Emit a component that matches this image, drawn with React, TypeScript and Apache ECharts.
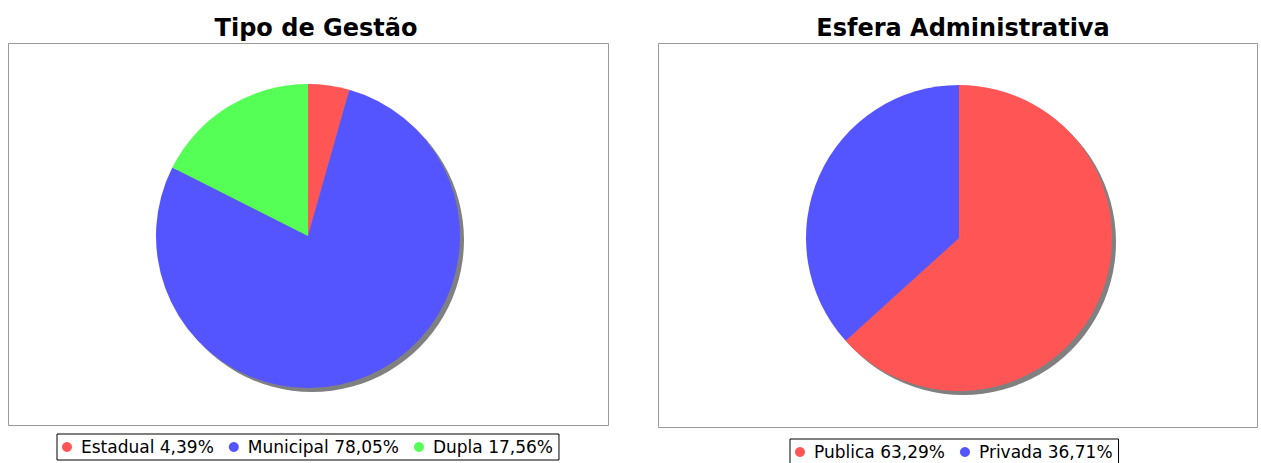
import React, { useEffect, useRef } from "react";
import * as echarts from "echarts";

const gestaoNames = ["Estadual", "Municipal", "Dupla"];
const gestaoValues = [4.39, 78.05, 17.56];
const gestaoColors = ["#FF5555", "#5555FF", "#55FF55"];

const esferaNames = ["Publica", "Privada"];
const esferaValues = [63.29, 36.71];
const esferaColors = ["#FF5555", "#5555FF"];

const titles = ["Tipo de Gestão", "Esfera Administrativa"];

const fmt = (v: number) => v.toFixed(2).replace(".", ",") + "%";

export default function App() {
  const ref = useRef<HTMLDivElement>(null);
  useEffect(() => {
    if (!ref.current) return;
    const chart = echarts.init(ref.current, null, { renderer: "svg" });
    const lookup: Record<string, number> = {};
    gestaoNames.forEach((n, i) => (lookup[n] = gestaoValues[i]));
    esferaNames.forEach((n, i) => (lookup[n] = esferaValues[i]));
    const sum = (a: number[]) => a.reduce((s, v) => s + v, 0);
    const font = "DejaVu Sans";
    const legendCommon = {
      icon: "circle",
      itemWidth: 10,
      itemHeight: 10,
      itemGap: 15,
      padding: [4, 6, 4, 5],
      borderColor: "#000",
      borderWidth: 1,
      selectedMode: false,
      formatter: (n: string) => n + " " + fmt(lookup[n]),
      textStyle: { fontFamily: font, fontSize: 17, lineHeight: 18, color: "#000", padding: [0, 0, 0, 4] },
    };
    chart.setOption({
      animation: false,
      backgroundColor: "#ffffff",
      title: [
        {
          text: titles[0],
          left: 311,
          top: 11,
          textAlign: "center",
          textStyle: { fontFamily: font, fontWeight: "bold", fontSize: 24, color: "#000" },
        },
        {
          text: titles[1],
          left: 958,
          top: 11,
          textAlign: "center",
          textStyle: { fontFamily: font, fontWeight: "bold", fontSize: 24, color: "#000" },
        },
      ],
      graphic: [
        {
          type: "rect",
          shape: { x: 8.5, y: 43.5, width: 600, height: 382 },
          style: { fill: "#fff", stroke: "#999", lineWidth: 1 },
          z: -10,
        },
        {
          type: "rect",
          shape: { x: 658.5, y: 43.5, width: 599, height: 384 },
          style: { fill: "#fff", stroke: "#999", lineWidth: 1 },
          z: -10,
        },
      ],
      legend: [
        { ...legendCommon, data: gestaoNames, left: 57, top: 434 },
        { ...legendCommon, data: esferaNames, left: 790, top: 439 },
      ],
      series: [
        {
          type: "pie",
          center: [308, 236],
          radius: 152,
          startAngle: 90,
          clockwise: true,
          label: { show: false },
          labelLine: { show: false },
          silent: true,
          z: 3,
          itemStyle: { borderWidth: 0 },
          data: gestaoNames.map((n, i) => ({ name: n, value: gestaoValues[i], itemStyle: { color: gestaoColors[i] } })),
        },
        {
          type: "pie",
          center: [959, 238],
          radius: 153,
          startAngle: 90,
          clockwise: true,
          label: { show: false },
          labelLine: { show: false },
          silent: true,
          z: 3,
          itemStyle: { borderWidth: 0 },
          data: esferaNames.map((n, i) => ({ name: n, value: esferaValues[i], itemStyle: { color: esferaColors[i] } })),
        },
        {
          type: "pie",
          center: [312, 240],
          radius: 152,
          label: { show: false },
          labelLine: { show: false },
          silent: true,
          z: 1,
          itemStyle: { color: "#808080", borderWidth: 0 },
          data: [{ name: "", value: sum(gestaoValues) }],
        },
        {
          type: "pie",
          center: [963, 242],
          radius: 153,
          label: { show: false },
          labelLine: { show: false },
          silent: true,
          z: 1,
          itemStyle: { color: "#808080", borderWidth: 0 },
          data: [{ name: "", value: sum(esferaValues) }],
        },
      ],
    });
    return () => chart.dispose();
  }, []);
  return (
    <div
      ref={ref}
      style={{ position: "absolute", left: 0, top: 0, width: 1261, height: 463 }}
    />
  );
}
